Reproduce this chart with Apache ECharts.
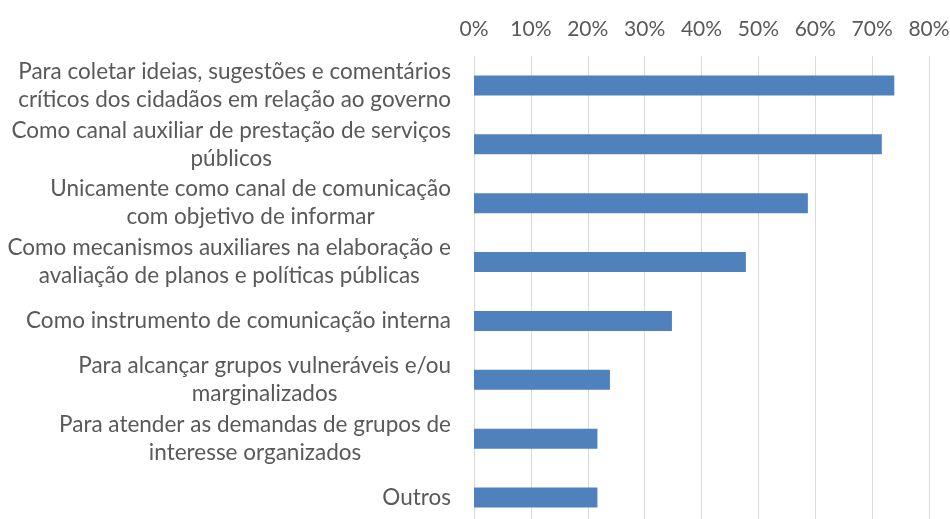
<!DOCTYPE html>
<html>
<head>
<meta charset="utf-8">
<script src="https://cdn.jsdelivr.net/npm/echarts@6/dist/echarts.min.js"></script>
<style>
  html, body { margin: 0; padding: 0; background: #fff; }
  #chart { width: 950px; height: 519px; }
</style>
</head>
<body>
<div id="chart"></div>
<script>
// categories, top to bottom as they appear
const categories = [
  'Para coletar ideias, sugestões e comentários\ncríticos dos cidadãos em relação ao governo',
  'Como canal auxiliar de prestação de serviços\npúblicos',
  'Unicamente como canal de comunicação\ncom objetivo de informar',
  'Como mecanismos auxiliares na elaboração e\navaliação de planos e políticas públicas',
  'Como instrumento de comunicação interna',
  'Para alcançar grupos vulneráveis e/ou\nmarginalizados',
  'Para atender as demandas de grupos de\ninteresse organizados',
  'Outros'
]
// share of respondents (fraction)
const shares = [0.739, 0.717, 0.587, 0.478, 0.348, 0.239, 0.217, 0.217]
const tickMax = 0.8
const tickStep = 0.1

const chart = echarts.init(document.getElementById('chart'))

const option = {
  animation: false,
  grid: {
    left: 474,
    right: 21,
    top: 56,
    height: 471,
    outerBoundsMode: 'none',
    containLabel: false
  },
  xAxis: {
    type: 'value',
    position: 'top',
    min: 0,
    max: tickMax,
    interval: tickStep,
    axisLine: { show: false },
    axisTick: { show: false },
    splitLine: { lineStyle: { color: '#d9d9d9', width: 1 } },
    axisLabel: {
      margin: 16,
      color: '#595959',
      fontFamily: 'Lato',
      fontSize: 21,
      formatter: v => Math.round(v * 100) + '%'
    }
  },
  yAxis: {
    type: 'category',
    inverse: true,
    data: categories,
    axisLine: { show: false },
    axisTick: { show: false },
    axisLabel: {
      margin: 23,
      color: '#595959',
      fontFamily: 'Lato',
      fontSize: 22.5,
      lineHeight: 28,
      formatter: v => v.split('\n').map(s => '{c|' + s + '}').join('\n'),
      rich: {
        c: { align: 'center', color: '#595959', fontFamily: 'Lato', fontSize: 22.5, lineHeight: 28 }
      }
    }
  },
  series: [
    {
      type: 'bar',
      data: shares,
      barWidth: 20,
      itemStyle: { color: '#4f81bd' }
    }
  ]
}

chart.setOption(option)
</script>
</body>
</html>
